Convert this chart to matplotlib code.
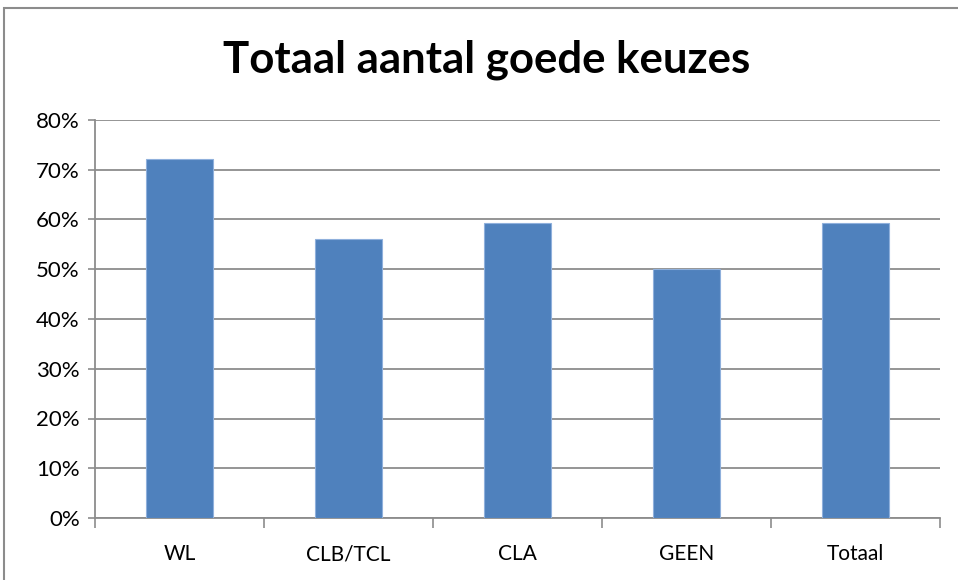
import matplotlib.pyplot as plt
from matplotlib.patches import Rectangle
from matplotlib.ticker import PercentFormatter

categories = ['WL', 'CLB/TCL', 'CLA', 'GEEN', 'Totaal']
values = [72.2, 56.0, 59.2, 50.0, 59.3]
title = 'Totaal aantal goede keuzes'

plt.rcParams['font.family'] = ['Lato', 'DejaVu Sans']

fig = plt.figure(figsize=(9.58, 5.8), dpi=100)
ax = fig.add_axes([95 / 958, 62 / 580, 845 / 958, 398 / 580])

# figure border like the Excel chart area
fig.patches.append(Rectangle((4 / 958, -0.01), 1.0, (580 - 8) / 580 + 0.01,
                             transform=fig.transFigure, fill=False,
                             edgecolor='#8c8c8c', linewidth=1.5))

x = range(len(categories))
ax.bar(x, values, width=0.4, color='#4F81BD', edgecolor='#8fb0dc',
       linewidth=0.8, zorder=3)

ax.set_xlim(-0.5, len(categories) - 0.5)
ax.set_ylim(0, 80)
ax.set_yticks(range(0, 81, 10))
ax.yaxis.set_major_formatter(PercentFormatter(decimals=0))
ax.grid(axis='y', color='#8c8c8c', linewidth=1.3, zorder=0)

ax.set_xticks(list(x))
ax.set_xticklabels(categories)
ax.set_xticks([i - 0.5 for i in range(len(categories) + 1)], minor=True)
ax.tick_params(axis='x', which='major', length=0, pad=19, labelsize=15)
ax.tick_params(axis='x', which='minor', length=7, color='#8c8c8c', width=1.2)
ax.tick_params(axis='y', length=5, color='#8c8c8c', width=1.2, labelsize=16, pad=6)

for s in ['top', 'right']:
    ax.spines[s].set_visible(False)
for s in ['left', 'bottom']:
    ax.spines[s].set_color('#8c8c8c')
    ax.spines[s].set_linewidth(1.3)

fig.text(487 / 958, 1 - 60 / 580, title, ha='center', va='center',
         fontsize=31.5, fontweight='bold')

fig.savefig('out.png', dpi=100)
